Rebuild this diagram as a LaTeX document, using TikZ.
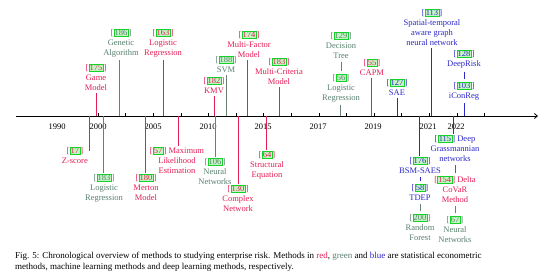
\documentclass[tikz,border=0pt]{standalone}
\usepackage{fontspec}
\setmainfont{Liberation Serif}
\usetikzlibrary{arrows.meta}
\definecolor{rd}{RGB}{228,30,86}
\definecolor{gr}{RGB}{88,128,110}
\definecolor{grs}{RGB}{105,128,115}
\definecolor{bl}{RGB}{45,40,200}
\definecolor{cbd}{RGB}{20,210,40}
\definecolor{cbf}{RGB}{195,245,195}
\newcommand{\ct}[1]{[\kern0.2pt{\setlength{\fboxsep}{0.5pt}\setlength{\fboxrule}{0.5pt}\fcolorbox{cbd}{cbf}{#1}}\kern0.2pt]}
\begin{document}
\begin{tikzpicture}[x=1pt,y=-1pt,
  lab/.style={align=center, inner sep=0pt, anchor=north, font=\fontsize{8.5}{9.8}\selectfont},
  yr/.style={inner sep=0pt, font=\fontsize{8.5}{9.8}\selectfont},
  stem/.style={line width=1pt},
  bar/.style={line width=0.8pt, shorten <=3pt, shorten >=3pt},
  captxt/.style={inner sep=0pt, anchor=west, font=\fontsize{9}{10}\selectfont}]
\useasboundingbox (0,0) rectangle (554,277);
\fill[white] (0,0) rectangle (554,277);
% axis
\coordinate (ax0) at (16,116);
\coordinate (ax1) at (538,116);
\draw[line width=0.8pt,-{Straight Barb[length=3pt,width=5pt]}] (ax0) -- (ax1);
\foreach \i in {0,...,14} \draw[line width=0.6pt] (98+27.6*\i,116) -- ++(0,-3);
% years
\node[yr] (y1990) at (57,127) {1990};
\node[yr] (y2000) at (98,127) {2000};
\node[yr] (y2005) at (153,127) {2005};
\node[yr] (y2010) at (208,127) {2010};
\node[yr] (y2015) at (263,127) {2015};
\node[yr] (y2017) at (318,127) {2017};
\node[yr] (y2019) at (373,127) {2019};
\node[yr] (y2021) at (428,127) {2021};
\node[yr] (y2022) at (456,127) {2022};
% ---------- above the axis ----------
\node[lab,text=rd] (gm) at (96,64) {\ct{175}\\Game\\Model};
\coordinate (a1) at (96,116);
\draw[stem,rd] (a1) -- ([yshift=-2.5pt]a1 |- gm.south);

\node[lab,text=gr] (ga) at (121,29) {\ct{186}\\Genetic\\Algorithm};
\coordinate (a2) at (119,116);
\draw[stem,grs] (a2) -- ([yshift=-2.5pt]a2 |- ga.south);

\node[lab,text=rd] (lr1) at (163,29) {\ct{163}\\Logistic\\Regression};
\coordinate (a3) at (163,116);
\draw[stem,rd] (a3) -- ([yshift=-2.5pt]a3 |- lr1.south);

\node[lab,text=rd] (kmv) at (214,77) {\ct{182}\\KMV};
\coordinate (a4) at (214,116);
\draw[stem,rd] (a4) -- ([yshift=-2.5pt]a4 |- kmv.south);

\node[lab,text=gr] (svm) at (226,56) {\ct{188}\\SVM};
\coordinate (a5) at (226,116);
\draw[stem,grs] (a5) -- ([yshift=-2.5pt]a5 |- svm.south);

\node[lab,text=rd] (mfm) at (249,31) {\ct{174}\\Multi-Factor\\Model};
\coordinate (a6) at (247,116);
\draw[stem,rd] (a6) -- ([yshift=-2.5pt]a6 |- mfm.south);

\node[lab,text=rd] (mcm) at (279,58) {\ct{183}\\Multi-Criteria\\Model};
\coordinate (a7) at (279,116);
\draw[stem,rd] (a7) -- ([yshift=-2.5pt]a7 |- mcm.south);

\node[lab,text=gr] (dt1) at (341,32) {\ct{129}\\Decision\\Tree};
\node[lab,text=gr] (dt2) at (341,74) {\ct{56}\\Logistic\\Regression};
\draw[bar,grs] (dt1) -- (dt2);
\coordinate (a8) at (340,116);
\draw[stem,grs] (a8) -- ([yshift=-2.5pt]a8 |- dt2.south);

\node[lab,text=rd] (capm) at (372,59) {\ct{55}\\CAPM};
\coordinate (a9) at (371,116);
\draw[stem,rd] (a9) -- ([yshift=-2.5pt]a9 |- capm.south);

\node[lab,text=bl] (sae) at (397,79) {\ct{127}\\SAE};
\coordinate (a10) at (397,116);
\draw[stem,bl] (a10) -- ([yshift=-2.5pt]a10 |- sae.south);

\node[lab,text=bl] (stg) at (432,9) {\ct{113}\\Spatial-temporal\\aware graph\\neural network};
\coordinate (a11) at (431,116);
\draw[stem,bl] (a11) -- ([yshift=-2.5pt]a11 |- stg.south);

\node[lab,text=bl] (dr1) at (464,50) {\ct{128}\\DeepRisk};
\node[lab,text=bl] (dr2) at (464,82) {\ct{103}\\iConReg};
\draw[bar,bl] (dr1) -- (dr2);
\coordinate (a12) at (464,116);
\draw[stem,bl] (a12) -- ([yshift=-2.5pt]a12 |- dr2.south);
% ---------- below the axis ----------
\node[lab,text=rd,anchor=north east] (zs) at (88,147) {\ct{17}\\Z-score};
\coordinate (b1) at (89,116);
\draw[stem,rd] (b1) -- ([yshift=-4pt]b1 |- zs.north);

\node[lab,text=gr] (lr2) at (104,174) {\ct{183}\\Logistic\\Regression};
\coordinate (b2) at (103,116);
\draw[stem,grs] (b2) -- ([yshift=1.5pt]b2 |- lr2.north);

\node[lab,text=rd] (mm) at (146,174) {\ct{180}\\Merton\\Model};
\coordinate (b3) at (145,116);
\draw[stem,rd] (b3) -- ([yshift=1.5pt]b3 |- mm.north);

\node[lab,text=rd] (mle) at (177,147) {\ct{57} Maximum\\Likelihood\\Estimation};
\coordinate (b4) at (178,116);
\draw[stem,rd] (b4) -- ([yshift=1.5pt]b4 |- mle.north);

\node[lab,text=gr] (nn1) at (215,158) {\ct{106}\\Neural\\Networks};
\coordinate (b5) at (215,116);
\draw[stem,grs] (b5) -- ([yshift=1.5pt]b5 |- nn1.north);

\node[lab,text=rd] (cn) at (238,185) {\ct{130}\\Complex\\Network};
\coordinate (b6) at (238,116);
\draw[stem,rd] (b6) -- ([yshift=1.5pt]b6 |- cn.north);

\node[lab,text=rd] (se) at (267,151) {\ct{64}\\Structural\\Equation};
\coordinate (b7) at (266,116);
\draw[stem,rd] (b7) -- ([yshift=1.5pt]b7 |- se.north);

\node[lab,text=bl] (c21a) at (420,157) {\ct{176}\\BSM-SAES};
\node[lab,text=bl] (c21b) at (420,184) {\ct{58}\\TDEP};
\node[lab,text=gr] (c21c) at (420,214) {\ct{200}\\Random\\Forest};
\coordinate (b8) at (419,116);
\draw[stem,bl] (b8) -- ([yshift=1.5pt]b8 |- c21a.north);
\draw[bar,bl] (c21a) -- (c21b);
\draw[bar,grs] (c21b) -- (c21c);

\node[lab,text=bl] (c22a) at (455,135) {\ct{115} Deep\\Grassmannian\\networks};
\node[lab,text=rd] (c22b) at (455,176) {\ct{154} Delta\\CoVaR\\Method};
\node[lab,text=gr] (c22c) at (455,216) {\ct{67}\\Neural\\Networks};
\coordinate (b9) at (453,116);
\draw[stem,bl] (b9) -- ([yshift=1.5pt]b9 |- c22a.north);
\draw[bar,rd] (c22a) -- (c22b);
\draw[bar,grs] (c22b) -- (c22c);
% ---------- caption ----------
\node[captxt] (cap1) at (15,256) {Fig. 5: Chronological overview of methods to studying enterprise risk. Methods in \textcolor{rd}{red}, \textcolor{gr}{green} and \textcolor{bl}{blue} are statistical econometric};
\node[captxt] (cap2) at (15,267) {methods, machine learning methods and deep learning methods, respectively.};
\end{tikzpicture}
\end{document}
